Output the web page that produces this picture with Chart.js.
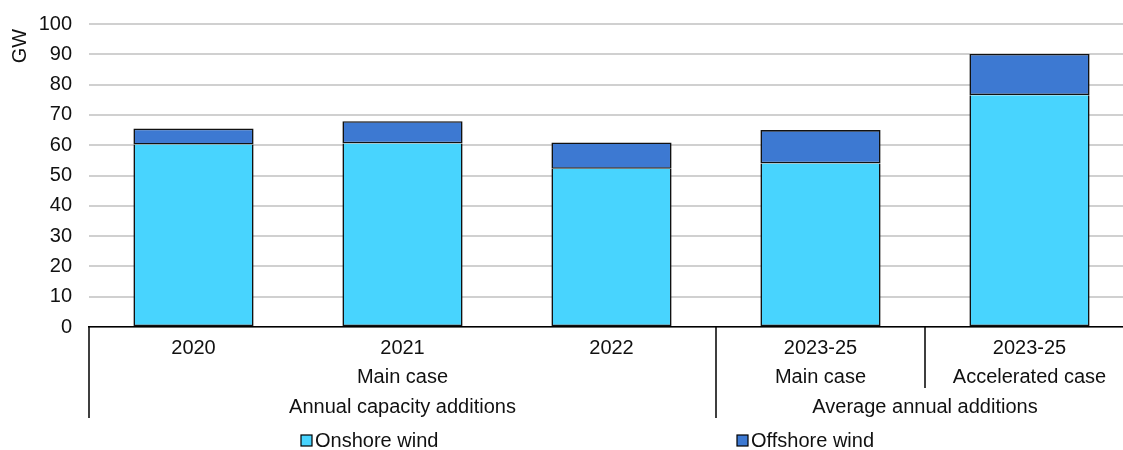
<!DOCTYPE html>
<html>
<head>
<meta charset="utf-8">
<script src="https://cdn.jsdelivr.net/npm/chart.js@4/dist/chart.umd.min.js"></script>
<style>
  html, body { margin: 0; padding: 0; background: #fff; }
  #wrap { width: 1123px; height: 450px; overflow: hidden; }
  #grafico { display: block; }
</style>
</head>
<body>
<div id="wrap"><canvas id="grafico" width="1134" height="450"></canvas></div>
<script>
'use strict';

// Datos (GW)
const categorias = ['2020', '2021', '2022', '2023-25', '2023-25'];
const casos = [
    { texto: 'Main case', desde: 0, hasta: 2 },
    { texto: 'Main case', desde: 3, hasta: 3 },
    { texto: 'Accelerated case', desde: 4, hasta: 4 }
];
const grupos = [
    { texto: 'Annual capacity additions', desde: 0, hasta: 2 },
    { texto: 'Average annual additions', desde: 3, hasta: 4 }
];
const onshore = [60.2, 60.6, 52.2, 54.0, 76.5];
const offshore = [5.3, 7.3, 8.7, 11.0, 13.6];
const ticksY = [0, 10, 20, 30, 40, 50, 60, 70, 80, 90, 100];

const FUENTE = '20px "Liberation Sans", Arial, sans-serif';
const colorOn = '#48d4fe';
const colorOff = '#3d79d2';
const colorTexto = '#111';

/**
 * Dibuja las etiquetas de varios niveles, el título del eje y la leyenda.
 */
const etiquetasPlugin = {
    id: 'etiquetas',
    afterDraw(chart) {
        const ctx = chart.ctx;
        const x = chart.scales.x;
        const area = chart.chartArea;
        const mitad = (i) => x.getPixelForValue(i);
        const borde = (i) => (mitad(i) + mitad(i + 1)) / 2;

        ctx.save();
        ctx.strokeStyle = '#000';
        ctx.lineWidth = 1.5;
        ctx.beginPath();
        ctx.moveTo(area.left, area.bottom);
        ctx.lineTo(area.left, 418);
        ctx.moveTo(borde(2), area.bottom);
        ctx.lineTo(borde(2), 418);
        ctx.moveTo(borde(3), area.bottom);
        ctx.lineTo(borde(3), 388);
        ctx.stroke();

        ctx.fillStyle = colorTexto;
        ctx.font = FUENTE;
        ctx.textAlign = 'center';
        ctx.textBaseline = 'middle';
        categorias.forEach((c, i) => ctx.fillText(c, mitad(i), 348));
        casos.forEach(c => ctx.fillText(c.texto, (mitad(c.desde) + mitad(c.hasta)) / 2, 377));
        grupos.forEach(g => ctx.fillText(g.texto, (mitad(g.desde) + mitad(g.hasta)) / 2, 407));

        // Título del eje Y
        ctx.save();
        ctx.translate(20, 46);
        ctx.rotate(-Math.PI / 2);
        ctx.fillText('GW', 0, 0);
        ctx.restore();

        // Leyenda
        const leyenda = [
            { texto: 'Onshore wind', color: colorOn, x: 301 },
            { texto: 'Offshore wind', color: colorOff, x: 737 }
        ];
        ctx.textAlign = 'left';
        leyenda.forEach(l => {
            ctx.fillStyle = l.color;
            ctx.fillRect(l.x, 435, 11, 11);
            ctx.lineWidth = 1.2;
            ctx.strokeStyle = '#000';
            ctx.strokeRect(l.x, 435, 11, 11);
            ctx.fillStyle = colorTexto;
            ctx.fillText(l.texto, l.x + 14, 441);
        });
        ctx.restore();
    }
};

const ctx = document.getElementById('grafico').getContext('2d');
new Chart(ctx, {
    type: 'bar',
    data: {
        labels: categorias.map((c, i) => c + ' ' + i),
        datasets: [
            {
                label: 'Onshore wind',
                data: onshore,
                backgroundColor: colorOn,
                borderColor: '#111',
                borderWidth: 1.6,
                borderSkipped: 'top'
            },
            {
                label: 'Offshore wind',
                data: offshore,
                backgroundColor: colorOff,
                borderColor: '#111',
                borderWidth: 1.6,
                borderSkipped: false
            }
        ]
    },
    options: {
        responsive: false,
        animation: false,
        layout: { padding: { top: 24, right: 0, bottom: 123, left: 0 } },
        datasets: { bar: { categoryPercentage: 1, barPercentage: 0.575 } },
        plugins: {
            legend: { display: false },
            tooltip: { enabled: false }
        },
        scales: {
            x: {
                stacked: true,
                grid: { display: false, drawTicks: false },
                ticks: { display: false },
                border: { display: true, color: '#000', width: 1.5 },
                afterFit: s => { s.height = 0; s.paddingLeft = 0; s.paddingRight = 0; }
            },
            y: {
                stacked: true,
                min: 0,
                max: 100,
                afterBuildTicks: s => { s.ticks = ticksY.map(v => ({ value: v })); },
                afterFit: s => { s.width = 89; s.paddingTop = 0; s.paddingBottom = 0; },
                grid: { color: '#d0d0d0', lineWidth: 2, drawTicks: false },
                border: { display: false },
                ticks: {
                    font: { family: '"Liberation Sans", Arial, sans-serif', size: 20 },
                    color: colorTexto,
                    padding: 17
                }
            }
        }
    },
    plugins: [etiquetasPlugin]
});
</script>
</body>
</html>
